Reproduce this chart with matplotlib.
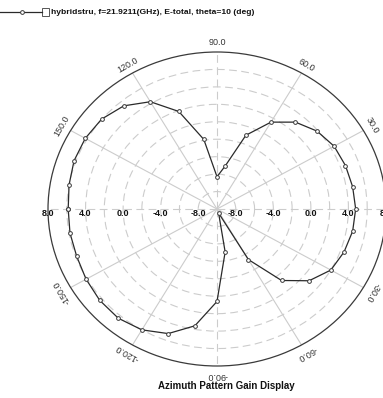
import matplotlib
matplotlib.use('Agg')
import matplotlib.pyplot as plt
import numpy as np
from matplotlib.lines import Line2D
from matplotlib.patches import Rectangle

plt.rcParams['font.family'] = ['Liberation Sans', 'DejaVu Sans']

# azimuth pattern, theta = 10 deg, gain in dB
phi_deg = np.arange(-180, 181, 10)
gain_db = [5.85, 5.9, 5.9, 6.1, 6.3, 6.35, 6.0, 5.2, 3.6, 0.6,
           -5.0, -9.5, -3.3, 0.7, 2.8, 4.0, 4.4, 4.67, 4.77, 4.67,
           4.56, 4.4, 3.9, 3.0, 1.5, -1.0, -5.0, -6.3, -1.9, 1.9,
           4.2, 5.44, 6.04, 6.2, 6.2, 6.0, 5.85]

r_min, r_max = -10, 8
ring_values = np.arange(-8, 8, 2)
r_labels = [8, 4, 0, -4, -8]
angle_labels = [90, 60, 30, -30, -60, -90, -120, -150, 150, 120]
legend_text = 'hybridstru, f=21.9211(GHz), E-total, theta=10 (deg)'
title = 'Azimuth Pattern Gain Display'

W, H = 383, 398
fig = plt.figure(figsize=(W / 100, H / 100), dpi=100)
fig.patch.set_facecolor('white')

# plot circle: centre (217, 209) px, radii 169 x 157 px
cx, cy, rx, ry = 217, 209, 169, 157
ax = fig.add_axes([(cx - rx) / W, (H - cy - ry) / H, 2 * rx / W, 2 * ry / H],
                  projection='polar')
ax.set_aspect('auto')
ax.set_ylim(r_min, r_max)

ax.set_xticks(np.deg2rad(np.arange(0, 360, 30)))
ax.set_xticklabels([])
ax.set_yticks(ring_values)
ax.set_yticklabels([])
ax.tick_params(length=0)
ax.yaxis.grid(True, color='#cccccc', linestyle=(0, (7, 4)), linewidth=0.8)
ax.xaxis.grid(True, color='#cccccc', linestyle='-', linewidth=0.8)
for i, gl in enumerate(ax.xaxis.get_gridlines()):
    if i % 3 == 0:
        gl.set_linestyle((0, (7, 4)))
ax.spines['polar'].set_color('#3a3a3a')
ax.spines['polar'].set_linewidth(0.9)

ax.plot(np.deg2rad(phi_deg), gain_db, color='#2a2a2a', linewidth=0.9,
        marker='o', markersize=2.7, markerfacecolor='white',
        markeredgecolor='#3a3a3a', markeredgewidth=0.7, zorder=3)

# angle labels around the rim, rotated along the circle
label_r = r_min + (r_max - r_min) * 1.06
for a in angle_labels:
    ax.text(np.deg2rad(a), label_r, '%.1f' % a, fontsize=6.5, color='#333333',
            rotation=a - 90, rotation_mode='anchor', ha='center', va='center')

# gain labels along the horizontal axis on both sides
for v in r_labels:
    for side in (np.pi, 0.0):
        ax.text(side, v, '%.1f' % v, fontsize=6.5, fontweight='bold',
                ha='center', va='top', color='#111111')

# legend entry at the top
ly = 1 - 12 / H
fig.add_artist(Line2D([0, 22 / W, 42 / W], [ly, ly, ly], color='#2a2a2a',
                      linewidth=0.9, marker='o', markersize=2.7,
                      markerfacecolor='white', markeredgecolor='#3a3a3a',
                      markeredgewidth=0.7, markevery=[1]))
fig.add_artist(Rectangle((42 / W, 1 - 15.5 / H), 7 / W, 7 / H,
                         facecolor='white', edgecolor='#555555', linewidth=0.7))
fig.text(51 / W, ly, legend_text, fontsize=6.1, fontweight='bold',
         ha='left', va='center', color='#111111')

fig.text(226 / W, 1 - 386 / H, title, fontsize=7, fontweight='bold',
         ha='center', va='center', color='#111111')

fig.savefig('out.png', dpi=100, facecolor='white')
